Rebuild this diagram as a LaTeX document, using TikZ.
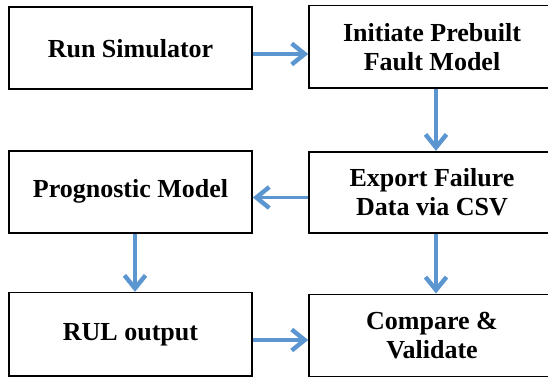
\documentclass[tikz,border=0pt]{standalone}
\usepackage{fontspec}
\setmainfont{Liberation Serif}
\usetikzlibrary{arrows.meta}
\definecolor{arrowblue}{RGB}{91,150,208}
\tikzset{
  box/.style={draw=black, line width=1.6pt, fill=white, align=center,
    font=\fontsize{26}{29.5}\selectfont\bfseries, inner sep=0pt},
  arr/.style={draw=arrowblue, line width=3.2pt,
    -{Straight Barb[length=13pt,width=21pt,line width=4.4pt]}}
}
\begin{document}
\begin{tikzpicture}[x=1pt,y=1pt]
\useasboundingbox (0,0) rectangle (548,-377);
\clip (0,0) rectangle (548,-377);
% left column
\node[box, minimum width=243pt, minimum height=82pt] (run) at (130.5,-48.3) {Run Simulator};
\node[box, minimum width=243pt, minimum height=82pt] (prog) at (130.5,-191.7) {Prognostic Model};
\node[box, minimum width=243pt, minimum height=83.3pt] (rul) at (130.5,-334.3) {RUL output};
% right column
\node[box, minimum width=246pt, minimum height=82.6pt] (init) at (432,-47) {Initiate Prebuilt\\Fault Model};
\node[box, minimum width=246pt, minimum height=81pt] (exp) at (432,-192.2) {Export Failure\\Data via CSV};
\node[box, minimum width=246pt, minimum height=82pt] (cmp) at (432,-335.3) {Compare \&\\Validate};
% arrows
\draw[arr] (run.east |- 0,-54) -- (init.west |- 0,-54);
\draw[arr] (init.south -| 436,0) -- (exp.north -| 436,0);
\draw[arr] (exp.west |- 0,-197.5) -- (prog.east |- 0,-197.5);
\draw[arr] (prog.south -| 135,0) -- (rul.north -| 135,0);
\draw[arr] (exp.south -| 436,0) -- (cmp.north -| 436,0);
\draw[arr] (rul.east |- 0,-340) -- (cmp.west |- 0,-340);
\end{tikzpicture}
\end{document}
